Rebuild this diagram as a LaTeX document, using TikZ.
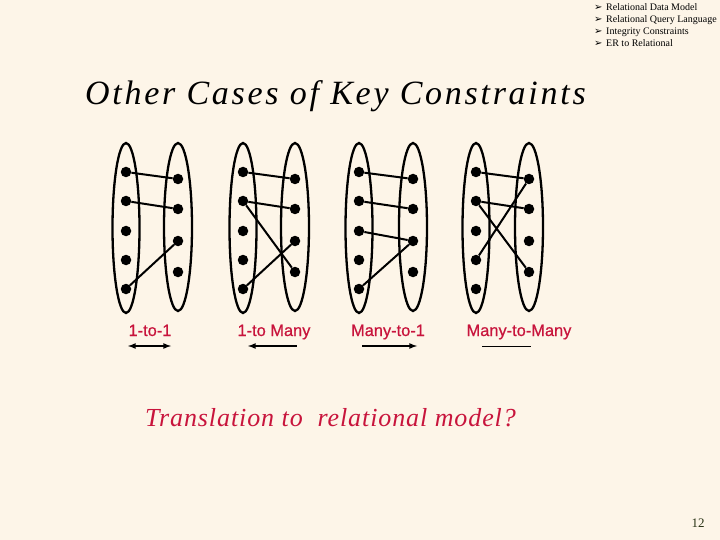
\documentclass[tikz,border=0pt]{standalone}
\usepackage{fontspec}
\setmainfont{Liberation Serif}
\newfontfamily\arialfont[FakeBold=0.6]{Liberation Sans}
\newfontfamily\symfont{DejaVu Sans}
\newfontfamily\wideserif[LetterSpace=8]{Liberation Serif}
\newfontfamily\semiwideserif[LetterSpace=3.5]{Liberation Serif}
\definecolor{bgcream}{RGB}{253,245,232}
\definecolor{labred}{RGB}{200,20,60}
\definecolor{pagegreen}{RGB}{40,50,20}
\begin{document}
\begin{tikzpicture}[x=1pt,y=-1pt,
dot/.style={circle,fill=black,inner sep=0pt,minimum size=10.5pt},
set/.style={draw,line width=2.3pt},
link/.style={line width=2pt},
kind/.style={text=labred,anchor=base,font=\arialfont\fontsize{16.4}{16}\selectfont},
dir/.style={line width=1.6pt,>=latex},
menu/.style={anchor=base west,font=\fontsize{10}{10}\selectfont,inner sep=0pt}]
\fill[bgcream] (0,0) rectangle (720,540);
\useasboundingbox (0,0) rectangle (720,540);
% top right menu
\foreach \t [count=\i] in {Relational Data Model,Relational Query Language,Integrity Constraints,ER to Relational}{
\node[menu] (bul\i) at (594,11+12*\i-12) {\symfont\fontsize{10}{10}\selectfont ➢};
\node[menu] (item\i) at (606,11+12*\i-12) {\t};
}
\node[anchor=base west,font=\wideserif\itshape\fontsize{34}{34}\selectfont,inner sep=0pt] (title) at (85,105) {Other Cases of Key Constraints};
% the four pairs of sets
\foreach \d/\xl/\xr in {a/126/178, b/243/295, c/359/413, d/476/529}{
\draw[set] (\xl,228) ellipse (13.5 and 85);
\draw[set] (\xr,227) ellipse (14 and 84);
\foreach \y [count=\i] in {172,201,231,260,289} \node[dot] (\d l\i) at (\xl,\y) {};
\foreach \y [count=\i] in {179,209,241,272} \node[dot] (\d r\i) at (\xr,\y) {};
}
\draw[link] (al1)--(ar1) (al2)--(ar2) (al5)--(ar3);
\draw[link] (bl1)--(br1) (bl2)--(br2) (bl2)--(br4) (bl5)--(br3);
\draw[link] (cl1)--(cr1) (cl2)--(cr2) (cl3)--(cr3) (cl5)--(cr3);
\draw[link] (dl1)--(dr1) (dl2)--(dr2) (dl2)--(dr4) (dl4)--(dr1);
% labels and directions
\node[kind] (lab1) at (150,336) {1-to-1};
\node[kind] (lab2) at (274,336) {1-to Many};
\node[kind] (lab3) at (388,336) {Many-to-1};
\node[kind] (lab4) at (519,336) {Many-to-Many};
\coordinate (s1) at (128,346); \coordinate (e1) at (171,346);
\coordinate (s2) at (248,346); \coordinate (e2) at (297,346);
\coordinate (s3) at (362,346); \coordinate (e3) at (417,346);
\coordinate (s4) at (482,346); \coordinate (e4) at (531,346);
\draw[dir,<->] (s1)--(e1);
\draw[dir,<-] (s2)--(e2);
\draw[dir,->] (s3)--(e3);
\draw[line width=1pt] (s4)--(e4);
\node[anchor=base west,text=labred,font=\semiwideserif\itshape\fontsize{26}{26}\selectfont,inner sep=0pt] (question) at (145,426) {Translation to\ \ relational model?};
\node[anchor=base,text=pagegreen,font=\fontsize{13}{13}\selectfont,inner sep=0pt] (page) at (698,527) {12};
\end{tikzpicture}
\end{document}
